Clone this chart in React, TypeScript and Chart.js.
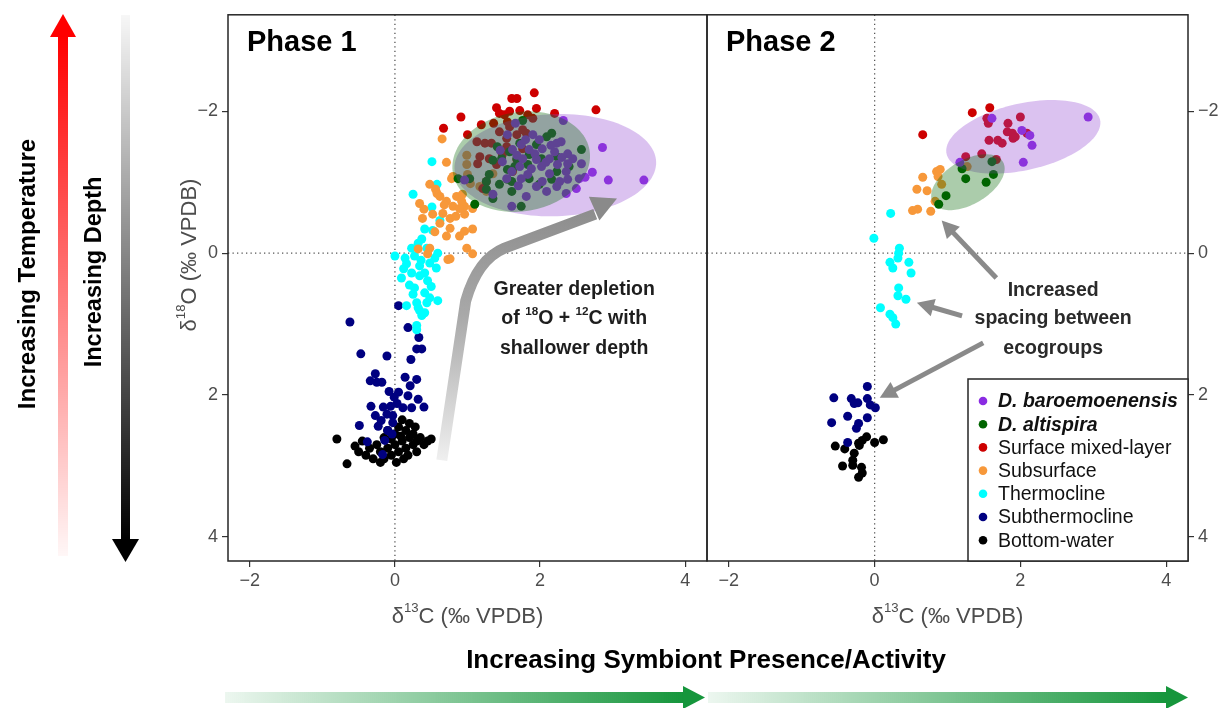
import React, { useEffect, useRef } from "react";
import { Chart, registerables } from "chart.js";
Chart.register(...registerables);

type P = [number, number];

// ---------------- data ----------------
const SERIES_NAMES = [
  "D. baroemoenensis",
  "D. altispira",
  "Surface mixed-layer",
  "Subsurface",
  "Thermocline",
  "Subthermocline",
  "Bottom-water",
];
const SERIES_ITALIC = [true, true, false, false, false, false, false];
const SERIES_COLORS = ["#8a2be2", "#006400", "#cd0000", "#f7983a", "#00ffff", "#000080", "#000000"];

const X_TICKS = [-2, 0, 2, 4];
const Y_TICKS = [-2, 0, 2, 4];
const X_RANGE = [-2.3, 4.3];
const Y_RANGE = [-3.36, 4.34];

const PANEL_TITLES = ["Phase 1", "Phase 2"];

// Phase 1
const P1_BARO: P[] = [
  [2.32, -1.87], [2.86, -1.49], [3.43, -1.03], [2.94, -1.03], [2.72, -1.14], [2.62, -1.07], [2.54, -1.05],
  [2.5, -0.91], [2.36, -0.84], [1.66, -1.83], [1.55, -1.67], [1.9, -1.67], [1.99, -1.6], [2.23, -1.55],
  [2.29, -1.57], [1.74, -1.53], [1.85, -1.46], [2.03, -1.47], [2.2, -1.43], [2.38, -1.4], [2.45, -1.33],
  [2.57, -1.26], [1.62, -1.46], [1.48, -1.29], [1.76, -1.33], [1.95, -1.32], [2.13, -1.33], [2.24, -1.25],
  [2.38, -1.26], [1.72, -1.22], [1.88, -1.19], [2.02, -1.22], [2.13, -1.12], [2.36, -1.15], [1.74, -1.05],
  [1.95, -0.94], [2.03, -1.01], [2.23, -0.94], [2.38, -1.04], [1.35, -0.83], [1.81, -0.8], [1.61, -0.66],
  [0.96, -1.03], [1.54, -1.05], [1.83, -1.11], [1.61, -1.15], [2.09, -0.87], [2.27, -1.01], [1.93, -1.4],
  [2.08, -1.28], [1.8, -1.6], [2.15, -1.52], [1.68, -1.38], [2.3, -1.35], [1.45, -1.45], [1.7, -0.95],
];
const P1_ALTI: P[] = [
  [1.76, -1.87], [2.16, -1.69], [2.09, -1.64], [2.57, -1.46], [1.41, -1.5], [1.58, -1.43], [1.72, -1.55],
  [1.95, -1.53], [1.35, -1.31], [1.65, -1.22], [1.83, -1.25], [2.23, -1.15], [1.3, -1.11], [1.55, -1.18],
  [0.87, -1.05], [1.03, -1.05], [1.26, -1.01], [1.44, -0.97], [1.55, -1.04], [1.61, -1.01], [1.85, -1.05],
  [1.99, -0.97], [2.16, -1.04], [1.35, -0.77], [1.74, -0.66], [1.1, -0.69], [2.4, -1.22], [2.02, -1.33],
  [1.68, -1.33], [1.47, -1.33], [1.85, -1.39], [2.23, -1.36], [1.26, -0.9], [1.61, -0.87],
];
const P1_SURF: P[] = [
  [1.92, -2.26], [1.61, -2.18], [1.68, -2.18], [2.77, -2.02], [1.4, -2.05], [1.44, -1.97], [1.58, -2.0],
  [1.72, -2.01], [1.95, -2.04], [1.51, -1.95], [1.83, -1.95], [2.2, -1.97], [0.91, -1.92], [1.19, -1.81],
  [1.36, -1.83], [0.67, -1.76], [1.0, -1.67], [1.58, -1.78], [1.76, -1.74], [1.9, -1.9], [1.13, -1.57],
  [1.24, -1.55], [1.33, -1.55], [1.44, -1.71], [1.54, -1.62], [1.68, -1.67], [1.81, -1.69], [1.17, -1.36],
  [1.3, -1.33], [1.14, -1.26], [1.48, -1.39], [1.68, -1.32], [1.4, -1.25], [1.54, -1.5], [1.76, -1.47],
  [1.26, -1.01], [1.21, -0.91], [1.62, -1.15], [1.55, -1.85],
];
const P1_SUBS: P[] = [
  [0.65, -1.61], [0.71, -1.28], [0.99, -1.38], [0.99, -1.25], [0.8, -1.08], [0.48, -0.97], [1.0, -1.11],
  [1.04, -0.98], [1.17, -0.94], [0.34, -0.7], [0.62, -0.8], [0.71, -0.73], [0.8, -0.66], [0.96, -0.66],
  [0.4, -0.62], [0.52, -0.55], [0.66, -0.56], [0.76, -0.49], [0.96, -0.55], [0.38, -0.49], [0.62, -0.42],
  [0.76, -0.35], [1.07, -0.34], [0.89, -0.24], [0.71, -0.24], [0.99, -0.07], [1.07, 0.01], [0.32, -0.06],
  [0.48, -0.07], [0.76, 0.08], [0.45, 0.01], [0.96, -0.31], [0.58, -0.84], [0.85, -0.8], [0.92, -0.73],
  [1.07, -0.63], [1.26, -0.87], [0.93, -0.83], [0.78, -1.05], [1.35, -1.12], [0.89, -0.63], [0.56, -0.9],
  [0.68, -0.68], [0.84, -0.52], [0.55, -0.3], [0.73, 0.09],
];
const P1_THERMO: P[] = [
  [0.51, -1.29], [0.58, -0.97], [0.25, -0.83], [0.51, -0.65], [0.62, -0.46], [0.41, -0.34], [0.52, -0.32],
  [0.37, -0.2], [0.32, -0.14], [0.44, -0.07], [0.23, -0.07], [0.59, 0.0], [0.0, 0.04], [0.14, 0.07],
  [0.27, 0.04], [0.55, 0.07], [0.48, 0.14], [0.16, 0.15], [0.34, 0.18], [0.57, 0.21], [0.23, 0.28],
  [0.41, 0.28], [0.09, 0.35], [0.34, 0.32], [0.45, 0.39], [0.27, 0.49], [0.41, 0.56], [0.48, 0.63],
  [0.25, 0.58], [0.59, 0.67], [0.32, 0.77], [0.38, 0.86], [0.16, 0.74], [0.3, 1.02], [0.3, 0.7],
  [0.44, 0.7], [0.34, 0.81], [0.41, 0.84], [0.37, 0.88], [0.3, 1.08], [0.2, 0.45], [0.12, 0.22],
  [0.5, 0.47], [0.36, 0.1],
];
const P1_SUBT: P[] = [
  [0.05, 0.74], [-0.62, 0.97], [0.18, 1.05], [0.33, 1.19], [0.3, 1.35], [0.37, 1.35], [-0.47, 1.42],
  [-0.11, 1.45], [0.22, 1.5], [-0.27, 1.7], [-0.34, 1.8], [-0.25, 1.82], [-0.18, 1.82], [0.14, 1.75],
  [0.3, 1.78], [0.21, 1.87], [-0.08, 1.95], [0.05, 1.96], [-0.01, 2.03], [0.18, 2.01], [0.32, 2.06],
  [-0.33, 2.16], [-0.16, 2.17], [-0.06, 2.16], [0.11, 2.18], [0.23, 2.18], [0.4, 2.17], [-0.27, 2.29],
  [-0.11, 2.27], [-0.03, 2.29], [-0.19, 2.36], [-0.49, 2.43], [-0.23, 2.44], [-0.1, 2.5], [-0.04, 2.55],
  [-0.14, 2.64], [-0.38, 2.66], [-0.17, 2.84], [0.03, 2.12], [-0.03, 2.39],
];
const P1_BOTTOM: P[] = [
  [-0.8, 2.62], [-0.66, 2.97], [-0.55, 2.72], [-0.5, 2.8], [-0.45, 2.65], [-0.4, 2.85], [-0.35, 2.75],
  [-0.3, 2.9], [-0.25, 2.7], [-0.2, 2.8], [-0.15, 2.6], [-0.1, 2.75], [-0.05, 2.85], [0.0, 2.55],
  [0.0, 2.7], [0.05, 2.45], [0.05, 2.8], [0.1, 2.35], [0.1, 2.65], [0.12, 2.9], [0.15, 2.5], [0.15, 2.75],
  [0.2, 2.6], [0.2, 2.4], [0.25, 2.7], [0.25, 2.55], [0.3, 2.65], [0.3, 2.8], [0.35, 2.6], [0.4, 2.7],
  [0.45, 2.65], [0.5, 2.62], [-0.1, 2.5], [-0.05, 2.62], [0.02, 2.95], [-0.2, 2.95], [0.18, 2.85],
  [0.08, 2.58], [-0.15, 2.9], [0.28, 2.45],
];

// Phase 2
const P2_BARO: P[] = [
  [2.93, -1.92], [1.61, -1.9], [2.02, -1.73], [2.13, -1.66], [2.16, -1.52], [2.04, -1.28], [1.17, -1.28],
];
const P2_ALTI: P[] = [
  [1.2, -1.19], [1.61, -1.29], [1.25, -1.05], [1.63, -1.11], [1.53, -1.0], [0.98, -0.81], [0.88, -0.69],
];
const P2_SURF: P[] = [
  [0.66, -1.67], [1.34, -1.98], [1.58, -2.05], [1.54, -1.9], [1.56, -1.83], [1.83, -1.83], [2.0, -1.92],
  [1.82, -1.71], [1.89, -1.69], [1.93, -1.64], [2.09, -1.69], [1.57, -1.59], [1.69, -1.59], [1.75, -1.55],
  [1.9, -1.62], [1.47, -1.4], [1.25, -1.36], [1.67, -1.32],
];
const P2_SUBS: P[] = [
  [0.85, -1.15], [0.9, -1.18], [0.87, -1.08], [0.66, -1.07], [0.58, -0.9], [0.72, -0.88], [0.92, -0.97],
  [0.83, -0.73], [0.52, -0.6], [0.59, -0.62], [0.77, -0.59], [1.27, -1.22],
];
const P2_THERMO: P[] = [
  [0.22, -0.56], [-0.01, -0.21], [0.34, -0.07], [0.33, 0.0], [0.32, 0.07], [0.21, 0.13], [0.25, 0.21],
  [0.47, 0.13], [0.5, 0.28], [0.33, 0.49], [0.32, 0.6], [0.43, 0.65], [0.08, 0.77], [0.21, 0.86],
  [0.25, 0.91], [0.29, 1.0],
];
const P2_SUBT: P[] = [
  [-0.1, 1.88], [-0.56, 2.04], [-0.32, 2.05], [-0.28, 2.12], [-0.23, 2.11], [-0.1, 2.05], [-0.06, 2.14],
  [0.01, 2.18], [-0.59, 2.39], [-0.37, 2.3], [-0.1, 2.32], [-0.22, 2.4], [-0.25, 2.47], [-0.37, 2.67],
];
const P2_BOTTOM: P[] = [
  [-0.54, 2.72], [-0.41, 2.76], [-0.22, 2.68], [-0.17, 2.64], [-0.11, 2.59], [0.0, 2.67], [0.12, 2.63],
  [-0.28, 2.82], [-0.3, 2.92], [-0.44, 3.0], [-0.3, 2.99], [-0.18, 3.02], [-0.17, 3.1], [-0.22, 3.16],
  [-0.21, 2.71],
];

// data ellipses: [cx, cy, semi-major, semi-minor, angle in degrees]
const P1_ELLIPSE_BARO = [2.21, -1.24, 1.39, 0.72, -2];
const P1_ELLIPSE_ALTI = [1.74, -1.29, 0.955, 0.7, -10];
const P2_ELLIPSE_BARO = [2.04, -1.64, 1.08, 0.47, -13];
const P2_ELLIPSE_ALTI = [1.28, -1.0, 0.56, 0.31, -31.5];

// annotation text lines
const P1_NOTE = [
  [{ t: "Greater depletion" }],
  [{ t: "of " }, { t: "18", sup: true }, { t: "O + " }, { t: "12", sup: true }, { t: "C with" }],
  [{ t: "shallower depth" }],
];
const P2_NOTE = [[{ t: "Increased" }], [{ t: "spacing between" }], [{ t: "ecogroups" }]];

// ---------------- helpers ----------------
const FONT = '"Liberation Sans", Arial, Helvetica, sans-serif';

type Part = { t: string; sup?: boolean };

function drawRich(ctx: CanvasRenderingContext2D, parts: Part[], cx: number, cy: number, size: number, weight: string, color: string) {
  const fonts = parts.map((p) => `${weight} ${p.sup ? size * 0.6 : size}px ${FONT}`);
  let total = 0;
  parts.forEach((p, i) => {
    ctx.font = fonts[i];
    total += ctx.measureText(p.t).width;
  });
  let x = cx - total / 2;
  ctx.textAlign = "left";
  ctx.textBaseline = "middle";
  ctx.fillStyle = color;
  parts.forEach((p, i) => {
    ctx.font = fonts[i];
    ctx.fillText(p.t, x, p.sup ? cy - size * 0.38 : cy);
    x += ctx.measureText(p.t).width;
  });
}

function arrow(ctx: CanvasRenderingContext2D, x1: number, y1: number, x2: number, y2: number, w: number, hl: number, hw: number, color: string | CanvasGradient) {
  const dx = x2 - x1, dy = y2 - y1;
  const len = Math.hypot(dx, dy);
  const ux = dx / len, uy = dy / len;
  const bx = x2 - ux * hl, by = y2 - uy * hl;
  ctx.strokeStyle = color;
  ctx.fillStyle = color;
  ctx.lineWidth = w;
  ctx.lineCap = "butt";
  ctx.beginPath();
  ctx.moveTo(x1, y1);
  ctx.lineTo(bx + ux * 1, by + uy * 1);
  ctx.stroke();
  ctx.beginPath();
  ctx.moveTo(x2, y2);
  ctx.lineTo(bx - uy * hw, by + ux * hw);
  ctx.lineTo(bx + uy * hw, by - ux * hw);
  ctx.closePath();
  ctx.fill();
}

function drawEllipse(chart: any, e: number[], fill: string) {
  const { ctx, scales } = chart;
  const [cx, cy, a, b, deg] = e;
  const th = (deg * Math.PI) / 180;
  ctx.beginPath();
  for (let i = 0; i <= 120; i++) {
    const t = (i / 120) * Math.PI * 2;
    const vx = cx + a * Math.cos(t) * Math.cos(th) - b * Math.sin(t) * Math.sin(th);
    const vy = cy + a * Math.cos(t) * Math.sin(th) + b * Math.sin(t) * Math.cos(th);
    const px = scales.x.getPixelForValue(vx);
    const py = scales.y.getPixelForValue(vy);
    if (i === 0) ctx.moveTo(px, py);
    else ctx.lineTo(px, py);
  }
  ctx.closePath();
  ctx.fillStyle = fill;
  ctx.fill();
}

const fmt = (v: any) => {
  const n = Number(v);
  return n < 0 ? "\u2212" + Math.abs(n) : String(n);
};

function makeDatasets(series: P[][]) {
  return series.map((pts, i) => ({
    label: SERIES_NAMES[i],
    data: pts.map(([x, y]) => ({ x, y })),
    backgroundColor: SERIES_COLORS[i],
    borderWidth: 0,
    pointRadius: 4.5,
    pointHoverRadius: 4.5,
  }));
}

function makeConfig(panel: number, series: P[][], ellipses: number[][], extra: (chart: any) => void, outside: ((chart: any) => void) | null): any {
  const left = panel === 0;
  const decorate = {
    id: "decorate" + panel,
    beforeDatasetsDraw(chart: any) {
      const { ctx, chartArea: ca, scales } = chart;
      ctx.save();
      ctx.beginPath();
      ctx.rect(ca.left, ca.top, ca.right - ca.left, ca.bottom - ca.top);
      ctx.clip();
      ctx.strokeStyle = "#555";
      ctx.lineWidth = 1.3;
      ctx.setLineDash([1.3, 3.2]);
      const x0 = scales.x.getPixelForValue(0);
      const y0 = scales.y.getPixelForValue(0);
      ctx.beginPath();
      ctx.moveTo(x0, ca.top);
      ctx.lineTo(x0, ca.bottom);
      ctx.moveTo(ca.left, y0);
      ctx.lineTo(ca.right, y0);
      ctx.stroke();
      ctx.restore();
    },
    afterDatasetsDraw(chart: any) {
      const { ctx, chartArea: ca } = chart;
      ctx.save();
      ctx.beginPath();
      ctx.rect(ca.left, ca.top, ca.right - ca.left, ca.bottom - ca.top);
      ctx.clip();
      drawEllipse(chart, ellipses[0], "rgba(145,70,210,0.33)");
      drawEllipse(chart, ellipses[1], "rgba(0,100,0,0.33)");
      extra(chart);
      ctx.restore();
    },
    afterDraw(chart: any) {
      const { ctx, chartArea: ca } = chart;
      ctx.save();
      // panel title
      ctx.font = `bold 29px ${FONT}`;
      ctx.fillStyle = "#000";
      ctx.textAlign = "left";
      ctx.textBaseline = "middle";
      ctx.fillText(PANEL_TITLES[panel], ca.left + 19, ca.top + 28);
      // x-axis title
      drawRich(ctx, [{ t: "\u03b4" }, { t: "13", sup: true }, { t: "C (\u2030 VPDB)" }], (ca.left + ca.right) / 2, 617, 22, "normal", "#4d4d4d");
      // border
      ctx.strokeStyle = "#262626";
      ctx.lineWidth = 1.5;
      ctx.strokeRect(ca.left, ca.top, ca.right - ca.left, ca.bottom - ca.top);
      if (outside) outside(chart);
      ctx.restore();
    },
  };
  return {
    type: "scatter",
    data: { datasets: makeDatasets(series) },
    options: {
      responsive: false,
      animation: false,
      events: [],
      layout: left
        ? { padding: { left: 168, right: 514, top: 13, bottom: 107 } }
        : { padding: { left: 707, right: 3, top: 13, bottom: 107 } },
      plugins: { legend: { display: false }, tooltip: { enabled: false } },
      scales: {
        x: {
          type: "linear",
          min: X_RANGE[0],
          max: X_RANGE[1],
          afterBuildTicks: (s: any) => {
            s.ticks = X_TICKS.map((v) => ({ value: v }));
          },
          afterFit: (s: any) => {
            s.height = 40;
          },
          grid: { display: true, drawOnChartArea: false, drawTicks: true, tickLength: 6, color: "#333", lineWidth: 1.2 },
          border: { display: false },
          ticks: { font: { family: FONT, size: 18 }, color: "#4d4d4d", padding: 3, callback: fmt, maxRotation: 0 },
        },
        y: {
          type: "linear",
          position: left ? "left" : "right",
          reverse: true,
          min: Y_RANGE[0],
          max: Y_RANGE[1],
          afterBuildTicks: (s: any) => {
            s.ticks = Y_TICKS.map((v) => ({ value: v }));
          },
          afterFit: (s: any) => {
            s.width = left ? 60 : 30;
          },
          grid: { display: true, drawOnChartArea: false, drawTicks: true, tickLength: 6, color: "#333", lineWidth: 1.2 },
          border: { display: false },
          ticks: { font: { family: FONT, size: 18 }, color: "#4d4d4d", padding: 4, callback: fmt },
        },
      },
    },
    plugins: [decorate],
  };
}

// panel 1 extras: curved arrow + note
function panel1Extra(chart: any) {
  const { ctx, scales } = chart;
  const X = (v: number) => scales.x.getPixelForValue(v);
  const Y = (v: number) => scales.y.getPixelForValue(v);
  const p0 = [X(0.646), Y(2.92)];
  const p1 = [X(0.975), Y(0.675)];
  const c = [X(1.14), Y(0.084)];
  const p2 = [X(1.51), Y(-0.07)];
  const p3 = [X(2.76), Y(-0.55)];
  const tip = [X(3.06), Y(-0.77)];
  const g = ctx.createLinearGradient(0, p0[1], 0, tip[1]);
  g.addColorStop(0, "#efefef");
  g.addColorStop(0.55, "#a9a9a9");
  g.addColorStop(1, "#8a8a8a");
  ctx.strokeStyle = g;
  ctx.lineWidth = 11;
  ctx.lineCap = "butt";
  ctx.lineJoin = "round";
  ctx.beginPath();
  ctx.moveTo(p0[0], p0[1]);
  ctx.lineTo(p1[0], p1[1]);
  ctx.quadraticCurveTo(c[0], c[1], p2[0], p2[1]);
  ctx.lineTo(p3[0], p3[1]);
  ctx.stroke();
  // head
  const dx = tip[0] - p2[0], dy = tip[1] - p2[1];
  const L = Math.hypot(dx, dy);
  const ux = dx / L, uy = dy / L;
  const hl = 25, hw = 13;
  const bx = tip[0] - ux * hl, by = tip[1] - uy * hl;
  ctx.fillStyle = "#8a8a8a";
  ctx.beginPath();
  ctx.moveTo(tip[0], tip[1]);
  ctx.lineTo(bx - uy * hw, by + ux * hw);
  ctx.lineTo(bx + uy * hw, by - ux * hw);
  ctx.closePath();
  ctx.fill();
  const ys = [0.51, 0.93, 1.35];
  P1_NOTE.forEach((line, i) => drawRich(ctx, line as Part[], X(2.47), Y(ys[i]), 19.5, "bold", "#1e1e1e"));
}

function panel2Extra(chart: any) {
  const { ctx, scales } = chart;
  const X = (v: number) => scales.x.getPixelForValue(v);
  const Y = (v: number) => scales.y.getPixelForValue(v);
  const col = "#8a8a8a";
  arrow(ctx, X(1.67), Y(0.35), X(0.92), Y(-0.46), 5, 17, 9, col);
  arrow(ctx, X(1.2), Y(0.885), X(0.58), Y(0.7), 5, 17, 9, col);
  arrow(ctx, X(1.49), Y(1.265), X(0.07), Y(2.04), 5, 17, 9, col);
  const ys = [0.53, 0.93, 1.35];
  P2_NOTE.forEach((line, i) => drawRich(ctx, line as Part[], X(2.45), Y(ys[i]), 19.5, "bold", "#2a2a2a"));
}

function panel2Outside(chart: any) {
  const { ctx, chartArea: ca } = chart;
  const w = 220, h = 182;
  const lx = ca.right - w, ly = ca.bottom - h;
  ctx.fillStyle = "#fff";
  ctx.fillRect(lx, ly, w, h);
  ctx.strokeStyle = "#262626";
  ctx.lineWidth = 1.5;
  ctx.strokeRect(lx, ly, w, h);
  SERIES_NAMES.forEach((name, i) => {
    const cy = ly + 22 + i * 23.2;
    ctx.fillStyle = SERIES_COLORS[i];
    ctx.beginPath();
    ctx.arc(lx + 15, cy, 4.3, 0, Math.PI * 2);
    ctx.fill();
    ctx.font = `${SERIES_ITALIC[i] ? "italic bold" : "normal"} 19.5px ${FONT}`;
    ctx.fillStyle = "#111";
    ctx.textAlign = "left";
    ctx.textBaseline = "middle";
    ctx.fillText(name, lx + 30, cy + 1);
  });
}

function panel1Outside(chart: any) {
  const { ctx } = chart;
  // y-axis title
  ctx.save();
  ctx.translate(190, 255);
  ctx.rotate(-Math.PI / 2);
  drawRich(ctx, [{ t: "\u03b4" }, { t: "18", sup: true }, { t: "O (\u2030 VPDB)" }], 0, 0, 22, "normal", "#4d4d4d");
  ctx.restore();
  // Increasing Temperature / Depth labels
  ctx.save();
  ctx.translate(28, 274);
  ctx.rotate(-Math.PI / 2);
  drawRich(ctx, [{ t: "Increasing Temperature" }], 0, 0, 24, "bold", "#000");
  ctx.restore();
  ctx.save();
  ctx.translate(95, 272);
  ctx.rotate(-Math.PI / 2);
  drawRich(ctx, [{ t: "Increasing Depth" }], 0, 0, 23.5, "bold", "#000");
  ctx.restore();
  // red arrow (up)
  const gr = ctx.createLinearGradient(0, 556, 0, 36);
  gr.addColorStop(0, "rgba(255,0,0,0.03)");
  gr.addColorStop(1, "rgba(255,0,0,1)");
  ctx.fillStyle = gr;
  ctx.fillRect(58, 35, 10, 521);
  ctx.fillStyle = "#ff0000";
  ctx.beginPath();
  ctx.moveTo(63, 14);
  ctx.lineTo(50, 37);
  ctx.lineTo(76, 37);
  ctx.closePath();
  ctx.fill();
  // grey-black arrow (down)
  const gg = ctx.createLinearGradient(0, 15, 0, 540);
  gg.addColorStop(0, "rgba(0,0,0,0.03)");
  gg.addColorStop(1, "rgba(0,0,0,1)");
  ctx.fillStyle = gg;
  ctx.fillRect(121, 15, 9, 526);
  ctx.fillStyle = "#000";
  ctx.beginPath();
  ctx.moveTo(125.5, 562);
  ctx.lineTo(112, 539);
  ctx.lineTo(139, 539);
  ctx.closePath();
  ctx.fill();
  // bottom text
  drawRich(ctx, [{ t: "Increasing Symbiont Presence/Activity" }], 706, 661, 26, "bold", "#000");
  // green arrows
  const greenArrow = (x0: number, x1: number) => {
    const g = ctx.createLinearGradient(x0, 0, x1 - 22, 0);
    g.addColorStop(0, "rgba(22,150,60,0.08)");
    g.addColorStop(1, "rgba(22,150,60,1)");
    ctx.fillStyle = g;
    ctx.fillRect(x0, 692, x1 - 22 - x0 + 1, 11);
    ctx.fillStyle = "rgb(22,150,60)";
    ctx.beginPath();
    ctx.moveTo(x1, 697.5);
    ctx.lineTo(x1 - 22, 686);
    ctx.lineTo(x1 - 22, 709);
    ctx.closePath();
    ctx.fill();
  };
  greenArrow(225, 705);
  greenArrow(708, 1188);
}

export default function App() {
  const ref1 = useRef<HTMLCanvasElement>(null);
  const ref2 = useRef<HTMLCanvasElement>(null);
  useEffect(() => {
    const c1 = new Chart(
      ref1.current as HTMLCanvasElement,
      makeConfig(0, [P1_BARO, P1_ALTI, P1_SURF, P1_SUBS, P1_THERMO, P1_SUBT, P1_BOTTOM], [P1_ELLIPSE_BARO, P1_ELLIPSE_ALTI], panel1Extra, panel1Outside)
    );
    const c2 = new Chart(
      ref2.current as HTMLCanvasElement,
      makeConfig(1, [P2_BARO, P2_ALTI, P2_SURF, P2_SUBS, P2_THERMO, P2_SUBT, P2_BOTTOM], [P2_ELLIPSE_BARO, P2_ELLIPSE_ALTI], panel2Extra, panel2Outside)
    );
    return () => {
      c1.destroy();
      c2.destroy();
    };
  }, []);
  const cs: React.CSSProperties = { position: "absolute", left: 0, top: 0, width: 1221, height: 708 };
  return (
    <div style={{ position: "absolute", left: 0, top: 0, width: 1221, height: 708, background: "#fff", overflow: "hidden" }}>
      <canvas ref={ref1} width={1221} height={708} style={cs} />
      <canvas ref={ref2} width={1221} height={708} style={cs} />
    </div>
  );
}
